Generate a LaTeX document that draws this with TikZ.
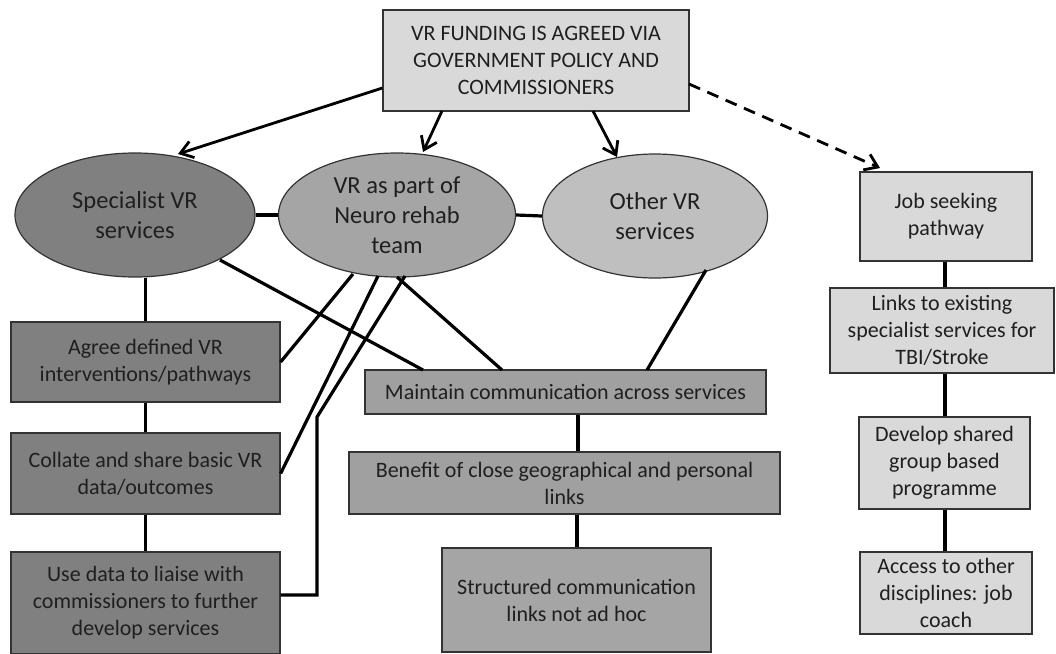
\documentclass[tikz,border=0pt]{standalone}
\usepackage{fontspec}
\setmainfont{Carlito}
\usetikzlibrary{arrows.meta,positioning,shapes.geometric}
\definecolor{dark}{HTML}{808080}
\definecolor{mid}{HTML}{A5A5A5}
\definecolor{lite}{HTML}{BFBFBF}
\definecolor{pale}{HTML}{D9D9D9}
\definecolor{cmid}{HTML}{A0A0A0}
\begin{document}
\begin{tikzpicture}[x=1pt,y=-1pt,
  box/.style={draw=black!80, line width=1.2pt, align=center, inner sep=0pt,
     font=\fontsize{22}{27}\selectfont, text=black!88},
  ell/.style={draw=black!80, line width=1.2pt, ellipse, align=center, inner sep=0pt,
     font=\fontsize{24.5}{30}\selectfont, text=black!88},
  link/.style={line width=3.2pt, black},
  arr/.style={line width=2.8pt, black, -{Straight Barb[angle=70:12pt 1, line width=2.8pt]}},
  darr/.style={arr, dash pattern=on 12pt off 8pt}]
\useasboundingbox (0,0) rectangle (1056,653);

% top box
\node[box, fill=pale, minimum width=306pt, minimum height=101pt] (top) at (536,60.5)
  {VR FUNDING IS AGREED VIA\\GOVERNMENT POLICY AND\\COMMISSIONERS};

% ellipses
\node[ell, fill=dark, minimum width=240pt, minimum height=124pt] (spec) at (135,215) {Specialist VR\\services};
\node[ell, fill=mid, minimum width=237pt, minimum height=124pt] (neuro) at (397,215) {VR as part of\\Neuro rehab\\team};
\node[ell, fill=lite, minimum width=225pt, minimum height=124pt] (other) at (655,216) {Other VR\\services};

% left boxes
\node[box, fill=dark, minimum width=269pt, minimum height=80pt] (agree) at (145.5,362) {Agree defined VR\\interventions/pathways};
\node[box, fill=dark, minimum width=269pt, minimum height=81pt] (collate) at (145.5,473.5) {Collate and share basic VR\\data/outcomes};
\node[box, fill=dark, minimum width=269pt, minimum height=102pt] (use) at (145.5,603) {Use data to liaise with\\commissioners to further\\develop services};

% centre boxes
\node[box, fill=cmid, minimum width=401pt, minimum height=44pt] (maint) at (565.5,392) {Maintain communication across services};
\node[box, fill=cmid, minimum width=431pt, minimum height=62pt] (ben) at (564.5,483) {Benefit of close geographical and personal\\links};
\node[box, fill=mid, minimum width=269pt, minimum height=104pt] (struct) at (576.5,600) {Structured communication\\links not ad hoc};

% right boxes
\node[box, fill=pale, minimum width=172pt, minimum height=89pt] (job) at (946,216.5) {Job seeking\\pathway};
\node[box, fill=pale, minimum width=224pt, minimum height=85pt] (links) at (942,330.5) {Links to existing\\specialist services for\\TBI/Stroke};
\node[box, fill=pale, minimum width=171pt, minimum height=92pt] (dev) at (944.5,463) {Develop shared\\group based\\programme};
\node[box, fill=pale, minimum width=172pt, minimum height=82pt] (acc) at (946,593) {Access to other\\disciplines: job\\coach};

% arrows from top
\draw[arr] (top.west |- 0,88) -- (178,154);
\draw[arr] (442,111) -- (423,152);
\draw[arr] (593,111) -- (617,157);
\draw[darr] (689,84) -- (880,168);

% ellipse links
\draw[link] (spec.east) -- (neuro.west);
\draw[link] (neuro.east) -- (other.west);

% to left boxes
\draw[link] (spec.south -| agree.north) -- (agree.north);
\draw[link] (agree.south) -- (collate.north);
\draw[link] (collate.south) -- (use.north);
\draw[link] (353,274) -- (agree.east);
\draw[link] (378,276) -- (collate.east);
\coordinate (bend1) at (317,417);
\coordinate (bend2) at (317,595);
\draw[link] (405,276) -- (bend1) -- (bend2) -- (use.east |- bend2);

% to centre
\draw[link] (220,260) -- (423,370);
\draw[link] (397,277) -- (502,370);
\draw[link] (706,270) -- (647,370);
\draw[link] (maint.south -| 578,0) -- (ben.north -| 578,0);
\draw[link] (ben.south -| 577,0) -- (struct.north -| 577,0);

% right column
\draw[link] (job.south -| 945,0) -- (links.north -| 945,0);
\draw[link] (links.south -| 945,0) -- (dev.north -| 945,0);
\draw[link] (dev.south -| 945,0) -- (acc.north -| 945,0);
\end{tikzpicture}
\end{document}
